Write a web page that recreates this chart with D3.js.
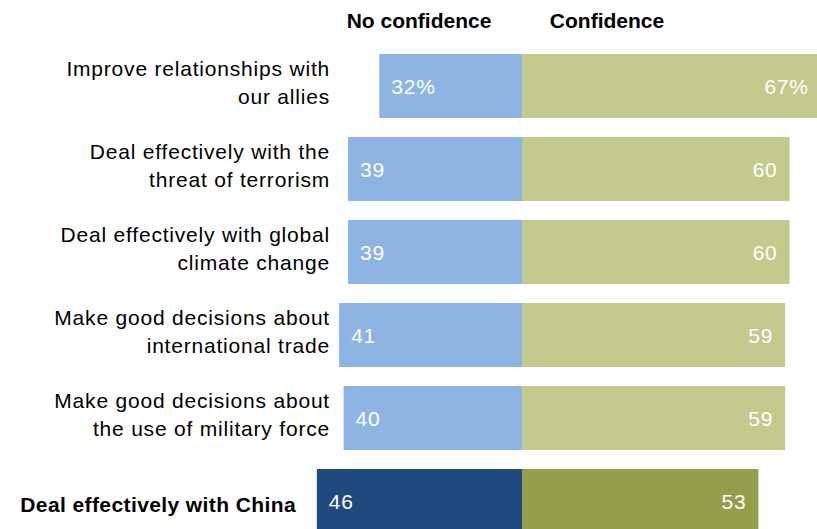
<!DOCTYPE html>
<html>
<head>
<meta charset="utf-8">
<script src="https://cdn.jsdelivr.net/npm/d3@7"></script>
<style>
  body { margin: 0; background: #fff; }
  svg { display: block; }
</style>
</head>
<body>
<div id="chart"></div>
<script>
// data
const labels = [
  ["Improve relationships with", "our allies"],
  ["Deal effectively with the", "threat of terrorism"],
  ["Deal effectively with global", "climate change"],
  ["Make good decisions about", "international trade"],
  ["Make good decisions about", "the use of military force"],
  ["Deal effectively with China"]
];
const noConfidence = [32, 39, 39, 41, 40, 46];
const confidence = [67, 60, 60, 59, 59, 53];
const seriesNames = ["No confidence", "Confidence"];

var svgWidth = 817;
var svgHeight = 529;
var center = 522;

var svg = d3.select("#chart")
  .append("svg")
  .attr("width", svgWidth)
  .attr("height", svgHeight);

var x = d3.scaleLinear()
  .domain([0, 100])
  .range([0, 446]);

// step 83, bar 64
var y = d3.scaleBand()
  .domain(d3.range(labels.length))
  .range([54, 54 + 83 * labels.length - 19])
  .paddingInner(19 / 83)
  .paddingOuter(0);

var rows = labels.map((l, i) => ({
  label: l,
  no: noConfidence[i],
  yes: confidence[i],
  last: i === labels.length - 1
}));

var labelFont = "'Liberation Sans', Arial, sans-serif";
var boldFont = "'Liberation Sans Narrow', 'Liberation Sans', sans-serif";

// headers
svg.selectAll("text.head")
  .data(seriesNames)
  .enter()
  .append("text")
  .attr("class", "head")
  .attr("x", (d, i) => i === 0 ? 419 : 607)
  .attr("y", 28)
  .attr("text-anchor", "middle")
  .style("font-family", boldFont)
  .style("font-weight", "bold")
  .style("font-size", "21px")
  .text(d => d);

var g = svg.selectAll("g.row")
  .data(rows)
  .enter()
  .append("g")
  .attr("class", "row")
  .attr("transform", (d, i) => `translate(0,${y(i)})`);

var bh = y.bandwidth();

// no confidence bars
g.append("rect")
  .attr("x", d => center - x(d.no))
  .attr("y", 0)
  .attr("width", d => x(d.no))
  .attr("height", bh)
  .attr("fill", d => d.last ? "#204a7e" : "#8eb4e3");

// confidence bars
g.append("rect")
  .attr("x", center)
  .attr("y", 0)
  .attr("width", d => x(d.yes))
  .attr("height", bh)
  .attr("fill", d => d.last ? "#959e4a" : "#c4ca8e");

// value labels
g.append("text")
  .attr("x", d => center - x(d.no) + 12)
  .attr("y", bh / 2 + 8)
  .attr("fill", "#fff")
  .style("font-family", labelFont)
  .style("font-size", "21px")
  .style("letter-spacing", "0.8px")
  .text((d, i) => i === 0 ? d.no + "%" : d.no);

g.append("text")
  .attr("x", d => center + x(d.yes) - 12)
  .attr("y", bh / 2 + 8)
  .attr("text-anchor", "end")
  .attr("fill", "#fff")
  .style("font-family", labelFont)
  .style("font-size", "21px")
  .style("letter-spacing", "0.8px")
  .text((d, i) => i === 0 ? d.yes + "%" : d.yes);

// category labels
g.each(function(d) {
  var t = d3.select(this).append("text")
    .attr("text-anchor", "end")
    .attr("fill", "#000");
  if (d.last) {
    t.attr("x", 296)
      .attr("y", bh / 2 + 11)
      .style("font-family", boldFont)
      .style("font-weight", "bold")
      .style("font-size", "21px")
      .style("letter-spacing", "0.4px")
      .text(d.label[0]);
  } else {
    t.style("font-family", labelFont)
      .style("font-size", "21px")
      .style("letter-spacing", "0.8px");
    d.label.forEach((line, k) => {
      t.append("tspan")
        .attr("x", 330)
        .attr("y", bh / 2 - 10 + k * 28)
        .text(line);
    });
  }
});
</script>
</body>
</html>
